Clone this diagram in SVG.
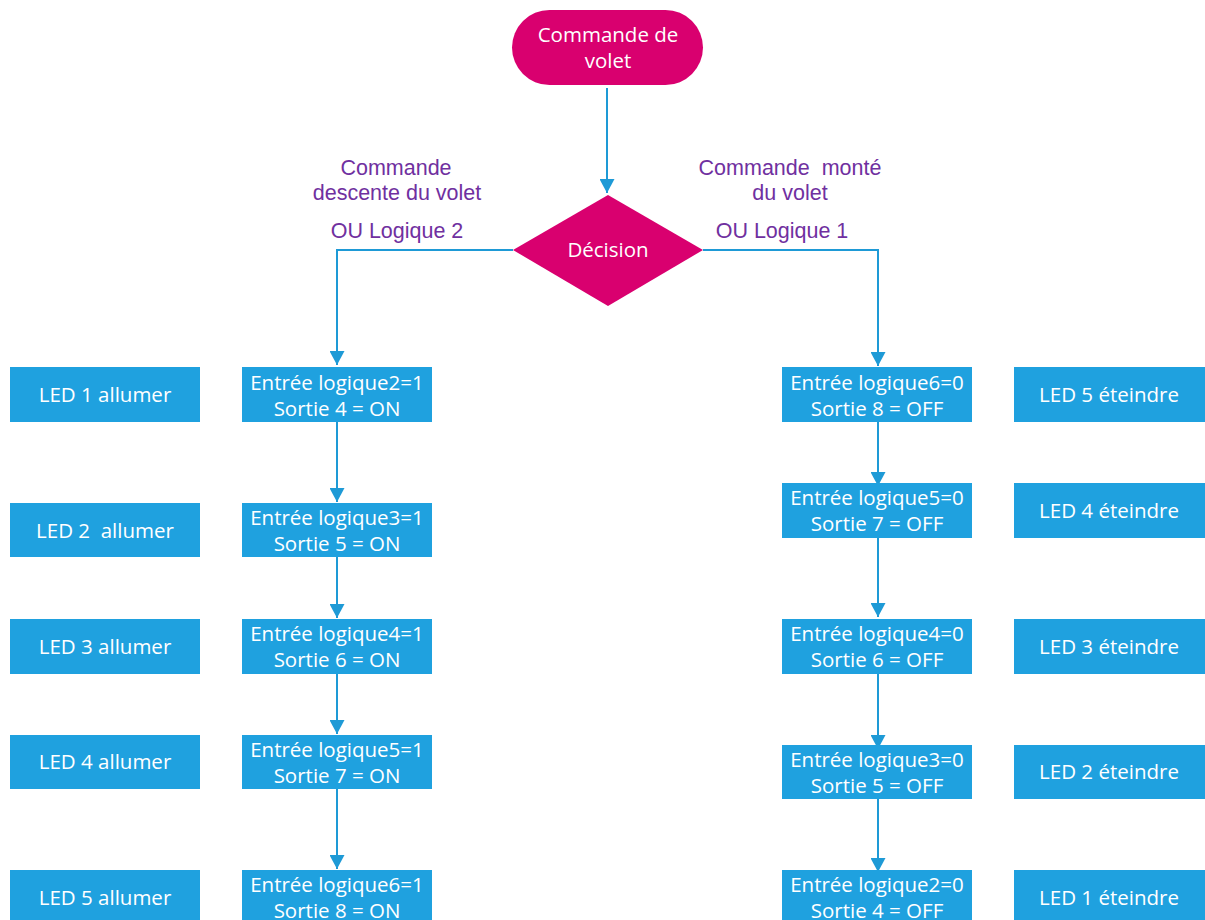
<svg xmlns="http://www.w3.org/2000/svg" width="1205" height="920" viewBox="0 0 1205 920">
  <style>
    .term, .dec { fill: #D9006F; }
    .box { fill: #1FA1DF; }
    .wt { fill: #FFFFFF; font-family: "Open Sans", "Noto Sans", sans-serif; font-size: 20.5px; text-anchor: middle; }
    .lbl { fill: #7030A0; font-family: "Liberation Sans", Arial, sans-serif; font-size: 21.5px; text-anchor: middle; }
    .wire { fill: none; stroke: #1E9AD6; stroke-width: 2; marker-end: url(#arrow); }
  </style>
  <defs>
    <marker id="arrow" viewBox="0 0 14 15" refX="14" refY="7.5" markerWidth="14" markerHeight="15" markerUnits="userSpaceOnUse" orient="auto">
      <path d="M0,0 L14,7.5 L0,15 Z" fill="#1E9AD6"/>
    </marker>
  </defs>

  <rect width="1205" height="920" fill="#FFFFFF"/>

  <!-- connectors -->
  <g id="connectors">
    <path class="wire" d="M607,88 V193"/>
    <path class="wire" d="M513,250 H337 V365"/>
    <path class="wire" d="M703,250 H878 V366"/>
    <path class="wire" d="M337,422 V502"/>
    <path class="wire" d="M337,557 V618"/>
    <path class="wire" d="M337,674 V734"/>
    <path class="wire" d="M337,789 V869"/>
    <path class="wire" d="M878,422 V486"/>
    <path class="wire" d="M878,538 V617"/>
    <path class="wire" d="M878,674 V749"/>
    <path class="wire" d="M878,799 V872"/>
  </g>

  <!-- start -->
  <g id="start">
    <rect class="term" x="512" y="10" width="191" height="75" rx="37.5"/>
    <text class="wt"><tspan x="608" y="42">Commande de</tspan><tspan x="608" y="68">volet</tspan></text>
  </g>

  <!-- decision -->
  <g id="decision">
    <polygon class="dec" points="608,195 703,250 608,306 513,250"/>
    <text class="wt" x="608" y="257">Décision</text>
  </g>

  <!-- branch labels -->
  <g id="label-down">
    <text class="lbl"><tspan x="396" y="175">Commande</tspan><tspan x="397" y="200">descente du volet</tspan></text>
    <text class="lbl" x="397" y="238">OU Logique 2</text>
  </g>
  <g id="label-up">
    <text class="lbl" xml:space="preserve"><tspan x="790" y="175">Commande  monté</tspan><tspan x="790" y="200">du volet</tspan></text>
    <text class="lbl" x="782" y="238">OU Logique 1</text>
  </g>

  <!-- descent branch -->
  <g id="in2-on">
    <rect class="box" x="242" y="367" width="190" height="55"/>
    <text class="wt"><tspan x="337" y="390">Entrée logique2=1</tspan><tspan x="337" y="416">Sortie 4 = ON</tspan></text>
  </g>
  <g id="in3-on">
    <rect class="box" x="242" y="503" width="190" height="54"/>
    <text class="wt"><tspan x="337" y="525">Entrée logique3=1</tspan><tspan x="337" y="551">Sortie 5 = ON</tspan></text>
  </g>
  <g id="in4-on">
    <rect class="box" x="242" y="619" width="190" height="55"/>
    <text class="wt"><tspan x="337" y="641">Entrée logique4=1</tspan><tspan x="337" y="667">Sortie 6 = ON</tspan></text>
  </g>
  <g id="in5-on">
    <rect class="box" x="242" y="735" width="190" height="54"/>
    <text class="wt"><tspan x="337" y="757">Entrée logique5=1</tspan><tspan x="337" y="783">Sortie 7 = ON</tspan></text>
  </g>
  <g id="in6-on">
    <rect class="box" x="242" y="870" width="190" height="55"/>
    <text class="wt"><tspan x="337" y="892">Entrée logique6=1</tspan><tspan x="337" y="918">Sortie 8 = ON</tspan></text>
  </g>

  <!-- LEDs on -->
  <g id="led1-on">
    <rect class="box" x="10" y="367" width="190" height="55"/>
    <text class="wt" x="105" y="402">LED 1 allumer</text>
  </g>
  <g id="led2-on">
    <rect class="box" x="10" y="503" width="190" height="54"/>
    <text class="wt" x="105" y="538" xml:space="preserve">LED 2  allumer</text>
  </g>
  <g id="led3-on">
    <rect class="box" x="10" y="619" width="190" height="55"/>
    <text class="wt" x="105" y="654">LED 3 allumer</text>
  </g>
  <g id="led4-on">
    <rect class="box" x="10" y="735" width="190" height="54"/>
    <text class="wt" x="105" y="769">LED 4 allumer</text>
  </g>
  <g id="led5-on">
    <rect class="box" x="10" y="870" width="190" height="55"/>
    <text class="wt" x="105" y="905">LED 5 allumer</text>
  </g>

  <!-- rise branch -->
  <g id="in6-off">
    <rect class="box" x="782" y="367" width="190" height="55"/>
    <text class="wt"><tspan x="877" y="390">Entrée logique6=0</tspan><tspan x="877" y="416">Sortie 8 = OFF</tspan></text>
  </g>
  <g id="in5-off">
    <rect class="box" x="782" y="483" width="190" height="55"/>
    <text class="wt"><tspan x="877" y="505">Entrée logique5=0</tspan><tspan x="877" y="531">Sortie 7 = OFF</tspan></text>
  </g>
  <g id="in4-off">
    <rect class="box" x="782" y="619" width="190" height="55"/>
    <text class="wt"><tspan x="877" y="641">Entrée logique4=0</tspan><tspan x="877" y="667">Sortie 6 = OFF</tspan></text>
  </g>
  <g id="in3-off">
    <rect class="box" x="782" y="745" width="190" height="54"/>
    <text class="wt"><tspan x="877" y="767">Entrée logique3=0</tspan><tspan x="877" y="793">Sortie 5 = OFF</tspan></text>
  </g>
  <g id="in2-off">
    <rect class="box" x="782" y="870" width="190" height="55"/>
    <text class="wt"><tspan x="877" y="892">Entrée logique2=0</tspan><tspan x="877" y="918">Sortie 4 = OFF</tspan></text>
  </g>

  <!-- LEDs off -->
  <g id="led5-off">
    <rect class="box" x="1014" y="367" width="191" height="55"/>
    <text class="wt" x="1109" y="402">LED 5 éteindre</text>
  </g>
  <g id="led4-off">
    <rect class="box" x="1014" y="483" width="191" height="55"/>
    <text class="wt" x="1109" y="518">LED 4 éteindre</text>
  </g>
  <g id="led3-off">
    <rect class="box" x="1014" y="619" width="191" height="55"/>
    <text class="wt" x="1109" y="654">LED 3 éteindre</text>
  </g>
  <g id="led2-off">
    <rect class="box" x="1014" y="745" width="191" height="54"/>
    <text class="wt" x="1109" y="779">LED 2 éteindre</text>
  </g>
  <g id="led1-off">
    <rect class="box" x="1014" y="870" width="191" height="55"/>
    <text class="wt" x="1109" y="905">LED 1 éteindre</text>
  </g>
</svg>
